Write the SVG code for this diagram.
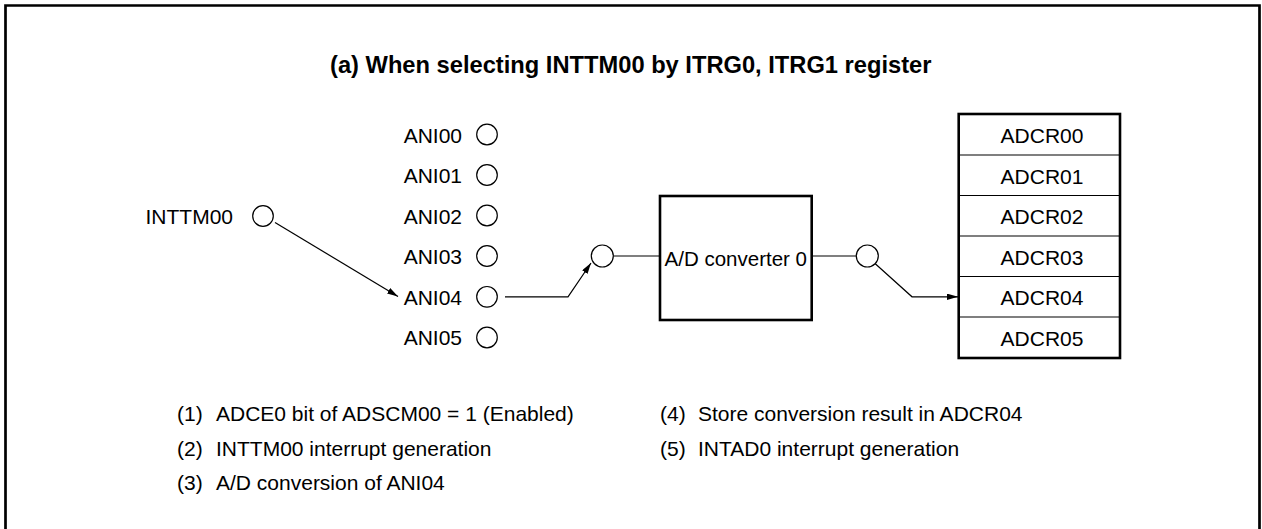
<svg xmlns="http://www.w3.org/2000/svg" width="1262" height="529" viewBox="0 0 1262 529">
<style>
  text { font-family: "Liberation Sans", Arial, Helvetica, sans-serif; fill: #000; }
  .lbl { font-size: 21px; }
  .conv { font-size: 20.5px; text-anchor: middle; }
  .reg { font-size: 21px; text-anchor: middle; }
  .title { font-size: 23.7px; font-weight: bold; }
  .pin { fill: #fff; stroke: #000; stroke-width: 1.2; }
  .wire { fill: none; stroke: #000; stroke-width: 1.2; }
  .thick { fill: #fff; stroke: #000; stroke-width: 2.6; }
  .div { stroke: #000; stroke-width: 1.2; }
</style>
<defs>
  <marker id="arr" markerUnits="userSpaceOnUse" markerWidth="12" markerHeight="7" refX="11" refY="3.2" orient="auto">
    <path d="M0,0 L11,3.2 L0,6.4 Z" fill="#000"/>
  </marker>
</defs>
<rect width="1262" height="529" fill="#fff"/>
<path d="M5.5,540 V5.5 H1259.5 V540" fill="none" stroke="#000" stroke-width="2.7"/>
<text class="title" x="330" y="73">(a) When selecting INTTM00 by ITRG0, ITRG1 register</text>

<g id="connectors">
  <line class="wire" x1="275" y1="222.5" x2="398" y2="296.5" marker-end="url(#arr)"/>
  <polyline class="wire" points="505,296.8 568,296.8 591,263" marker-end="url(#arr)"/>
  <line class="wire" x1="613.3" y1="256" x2="660" y2="256"/>
  <line class="wire" x1="811.7" y1="256" x2="856.3" y2="256"/>
  <polyline class="wire" points="875,263.5 912,296.8 958,296.8" marker-end="url(#arr)"/>
</g>

<g id="inttm00">
  <text class="lbl" x="233" y="223.5" text-anchor="end">INTTM00</text>
  <circle class="pin" cx="263" cy="216" r="10.3"/>
</g>

<g id="ani00"><text class="lbl" x="462" y="142.8" text-anchor="end">ANI00</text><circle class="pin" cx="487" cy="134.5" r="10.3"/></g>
<g id="ani01"><text class="lbl" x="462" y="183.3" text-anchor="end">ANI01</text><circle class="pin" cx="487" cy="175" r="10.3"/></g>
<g id="ani02"><text class="lbl" x="462" y="223.8" text-anchor="end">ANI02</text><circle class="pin" cx="487" cy="215.5" r="10.3"/></g>
<g id="ani03"><text class="lbl" x="462" y="264.3" text-anchor="end">ANI03</text><circle class="pin" cx="487" cy="256" r="10.3"/></g>
<g id="ani04"><text class="lbl" x="462" y="304.8" text-anchor="end">ANI04</text><circle class="pin" cx="487" cy="296.8" r="10.3"/></g>
<g id="ani05"><text class="lbl" x="462" y="345.3" text-anchor="end">ANI05</text><circle class="pin" cx="487" cy="337.5" r="10.3"/></g>

<g id="switch-in"><circle class="pin" cx="602.3" cy="256" r="11"/></g>

<g id="converter">
  <rect class="thick" x="660" y="196" width="151.7" height="124"/>
  <text class="conv" x="735.8" y="266">A/D converter 0</text>
</g>

<g id="switch-out"><circle class="pin" cx="867.3" cy="256" r="11"/></g>

<g id="adcr">
  <rect class="thick" x="958.7" y="114" width="161.3" height="244"/>
  <line class="div" x1="958.7" y1="155" x2="1120" y2="155"/>
  <line class="div" x1="958.7" y1="195.5" x2="1120" y2="195.5"/>
  <line class="div" x1="958.7" y1="236" x2="1120" y2="236"/>
  <line class="div" x1="958.7" y1="276.5" x2="1120" y2="276.5"/>
  <line class="div" x1="958.7" y1="317" x2="1120" y2="317"/>
  <text class="reg" x="1042" y="143.3">ADCR00</text>
  <text class="reg" x="1042" y="183.8">ADCR01</text>
  <text class="reg" x="1042" y="224.3">ADCR02</text>
  <text class="reg" x="1042" y="264.8">ADCR03</text>
  <text class="reg" x="1042" y="305.3">ADCR04</text>
  <text class="reg" x="1042" y="345.8">ADCR05</text>
</g>

<g id="notes">
  <text class="lbl" x="177" y="421">(1)</text><text class="lbl" x="216" y="421">ADCE0 bit of ADSCM00 = 1 (Enabled)</text>
  <text class="lbl" x="177" y="455.5">(2)</text><text class="lbl" x="216" y="455.5">INTTM00 interrupt generation</text>
  <text class="lbl" x="177" y="490">(3)</text><text class="lbl" x="216" y="490">A/D conversion of ANI04</text>
  <text class="lbl" x="660" y="421">(4)</text><text class="lbl" x="698" y="421">Store conversion result in ADCR04</text>
  <text class="lbl" x="660" y="455.5">(5)</text><text class="lbl" x="698" y="455.5">INTAD0 interrupt generation</text>
</g>
</svg>
